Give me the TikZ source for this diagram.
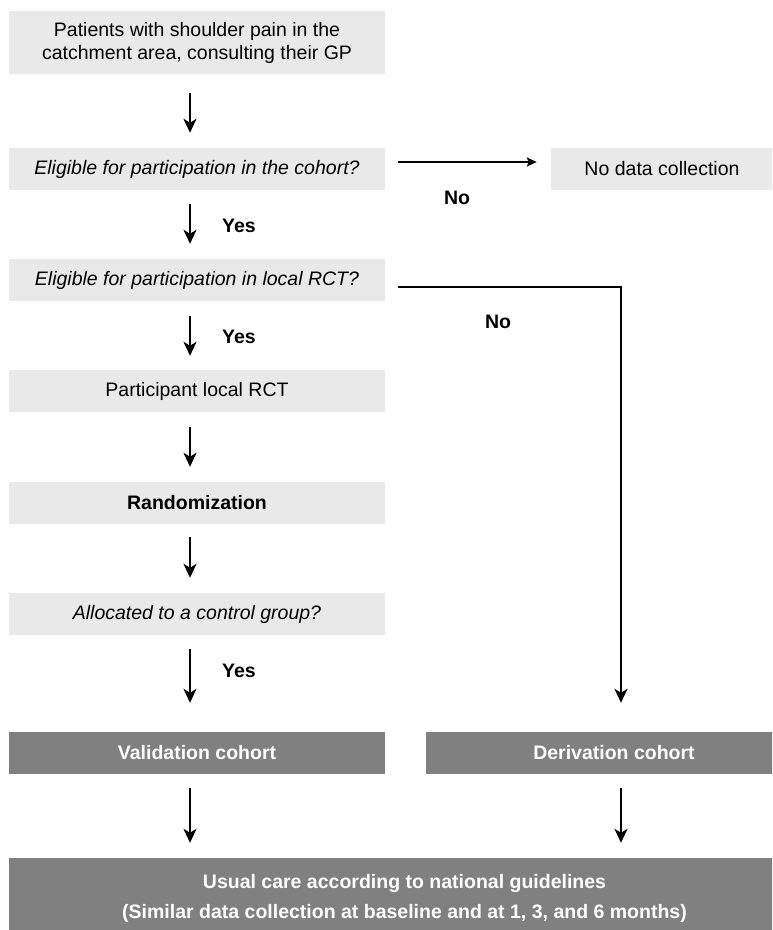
\documentclass[tikz,border=0pt]{standalone}
\usepackage{fontspec}
\setmainfont{Liberation Sans}
\usetikzlibrary{arrows.meta}
\definecolor{lightbox}{HTML}{E9E9E9}
\definecolor{darkbox}{HTML}{808080}
\begin{document}
\begin{tikzpicture}[x=1pt,y=-1pt,
  lbox/.style={fill=lightbox, inner sep=0pt, minimum width=376pt, minimum height=42pt,
               font=\fontsize{19.5}{23}\selectfont, align=center},
  dbox/.style={lbox, fill=darkbox, text=white, font=\fontsize{19.5}{23}\selectfont\bfseries},
  arr/.style={-{Stealth[length=14pt,width=13pt,inset=4pt]}, line width=2.2pt},
  harr/.style={-{Stealth[length=10pt,width=9pt,inset=2pt]}, line width=2pt},
  lab/.style={font=\fontsize{19.5}{23}\selectfont\bfseries, inner sep=0pt}]
\useasboundingbox (0,0) rectangle (772,930);
\clip (0,0) rectangle (772,930);

\node[lbox, minimum height=63pt] (n1) at (197,42.5) {Patients with shoulder pain in the\\catchment area, consulting their GP};
\node[lbox] (n2) at (197,169) {\itshape Eligible for participation in the cohort?};
\node[lbox, minimum width=222pt] (nd) at (662,169) {No data collection};
\node[lbox] (n3) at (197,280) {\itshape Eligible for participation in local RCT?};
\node[lbox] (n4) at (197,391) {Participant local RCT};
\node[lbox] (n5) at (197,503) {\bfseries Randomization};
\node[lbox] (n6) at (197,614) {\itshape Allocated to a control group?};
\node[dbox] (val) at (197,753) {Validation cohort};
\node[dbox] (der) at (614,753) {Derivation cohort};
\node[dbox, minimum width=791pt, minimum height=80pt,
      font=\fontsize{19.5}{30}\selectfont\bfseries] (bot) at (404.5,898)
  {Usual care according to national guidelines\\(Similar data collection at baseline and at 1, 3, and 6 months)};

\draw[arr, shorten <=19pt, shorten >=15pt] ([xshift=-7pt]n1.south) -- ([xshift=-7pt]n2.north);
\draw[arr, shorten <=14pt, shorten >=15pt] ([xshift=-7pt]n2.south) -- ([xshift=-7pt]n3.north);
\draw[arr, shorten <=15pt, shorten >=14pt] ([xshift=-7pt]n3.south) -- ([xshift=-7pt]n4.north);
\draw[arr, shorten <=15pt, shorten >=15pt] ([xshift=-7pt]n4.south) -- ([xshift=-7pt]n5.north);
\draw[arr, shorten <=13pt, shorten >=15pt] ([xshift=-7pt]n5.south) -- ([xshift=-7pt]n6.north);
\draw[arr, shorten <=14pt, shorten >=29pt] ([xshift=-7pt]n6.south) -- ([xshift=-7pt]val.north);
\draw[harr, shorten <=13pt, shorten >=14pt] ([yshift=7pt]n2.east) -- ([yshift=7pt]nd.west);
\draw[arr, shorten <=13pt, shorten >=29pt] ([yshift=-7pt]n3.east) -| ([xshift=7pt]der.north);
\draw[arr, shorten <=14pt, shorten >=15pt] ([xshift=-7pt]val.south) -- ([xshift=-7pt]val.south |- bot.north);
\draw[arr, shorten <=14pt, shorten >=15pt] ([xshift=7pt]der.south) -- ([xshift=7pt]der.south |- bot.north);

\node[lab] (l1) at (457,198) {No};
\node[lab] (l2) at (239,226) {Yes};
\node[lab] (l3) at (498,322) {No};
\node[lab] (l4) at (239,337) {Yes};
\node[lab] (l5) at (239,671) {Yes};
\end{tikzpicture}
\end{document}
